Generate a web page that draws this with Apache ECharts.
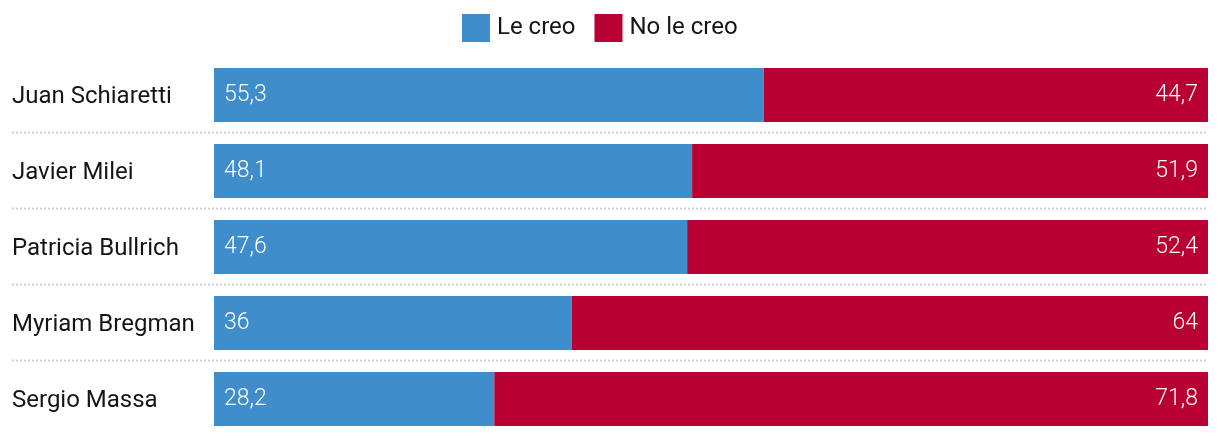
<!DOCTYPE html>
<html><head><meta charset="utf-8">
<script src="https://cdn.jsdelivr.net/npm/echarts@6/dist/echarts.min.js"></script>
<style>html,body{margin:0;padding:0;background:#fff}#c{width:1220px;height:438px}</style>
</head><body><div id="c"></div>
<script>
const categories = ["Juan Schiaretti", "Javier Milei", "Patricia Bullrich", "Myriam Bregman", "Sergio Massa"];
const leCreo = [55.3, 48.1, 47.6, 36, 28.2];
const noLeCreo = [44.7, 51.9, 52.4, 64, 71.8];
const seriesNames = ["Le creo", "No le creo"];
const colors = ["#3f8ecb", "#b80033"];

const fmt = v => String(v).replace('.', ',');
const chart = echarts.init(document.getElementById('c'), null, {renderer: 'canvas'});
const font = 'Roboto, "Noto Sans", sans-serif';
chart.setOption({
  animation: false,
  textStyle: {fontFamily: font},
  legend: {
    top: 14, left: 462, padding: 0, itemWidth: 28, itemHeight: 28, itemGap: 19,
    icon: 'rect',
    textStyle: {fontSize: 24, color: '#151515', fontFamily: font, padding: [2, 0, 0, 2]},
    data: seriesNames
  },
  grid: {left: 214, right: 12, top: 57, bottom: 1},
  xAxis: {type: 'value', min: 0, max: 100, show: false},
  yAxis: {
    type: 'category', data: categories, inverse: true,
    axisLine: {show: false}, axisTick: {show: false},
    axisLabel: {show: false}
  },
  series: [
    {name: seriesNames[0], type: 'bar', stack: 't', data: leCreo, barWidth: 54,
     itemStyle: {color: colors[0]},
     label: {show: true, position: 'insideLeft', distance: 10, color: '#fff', fontSize: 23, fontWeight: 300, fontFamily: font, padding: [2, 0, 0, 0], formatter: p => fmt(p.value)}},
    {name: seriesNames[1], type: 'bar', stack: 't', data: noLeCreo, barWidth: 54,
     itemStyle: {color: colors[1]},
     label: {show: true, position: 'insideRight', distance: 10, color: '#fff', fontSize: 23, fontWeight: 300, fontFamily: font, padding: [2, 0, 0, 0], formatter: p => fmt(p.value)}}
  ]
});

// category labels and dotted separators, positioned from the axis scale
const gridRight = 1220 - 12;
const els = [];
categories.forEach((c, i) => {
  const y = chart.convertToPixel({yAxisIndex: 0}, i);
  els.push({type: 'text', left: 12, y: y + 2, style: {text: c, font: '400 24px ' + font, fill: '#151515', textVerticalAlign: 'middle'}});
  if (i < categories.length - 1) {
    const y2 = chart.convertToPixel({yAxisIndex: 0}, i + 1);
    const ys = Math.round((y + y2) / 2) - 0.5;
    els.push({type: 'line', shape: {x1: 12, y1: ys, x2: gridRight, y2: ys},
      style: {stroke: '#cfcfcf', lineWidth: 2, lineDash: [2, 2]}});
  }
});
chart.setOption({graphic: els});
</script></body></html>
